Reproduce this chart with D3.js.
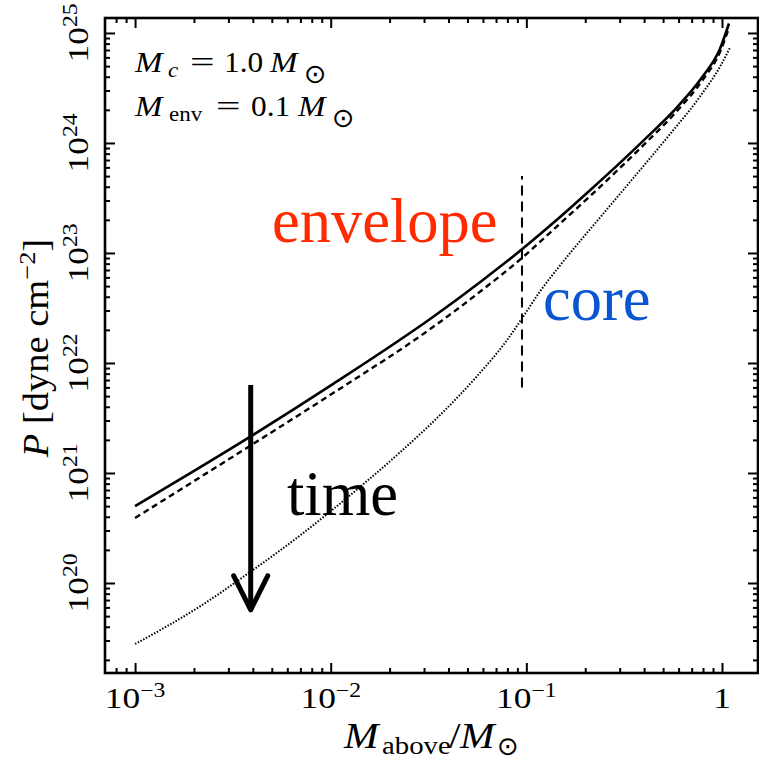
<!DOCTYPE html>
<html>
<head>
<meta charset="utf-8">
<script src="https://cdn.jsdelivr.net/npm/d3@7"></script>
<style>
  body { margin: 0; background: #fff; }
  svg { display: block; }
</style>
</head>
<body>
<svg id="chart" width="759" height="760"></svg>
<script>
// Pressure profiles P(M_above) at three epochs (solar masses, dyne cm^-2)
const massLate = [0.001, 0.0039, 0.0103, 0.0333, 0.060, 0.095, 0.137, 0.211, 0.301, 0.414, 0.589, 0.800, 0.977, 1.086];
const pressureLate = [5.0e20, 2.15e21, 6.46e21, 2.62e22, 5.69e22, 1.08e23, 1.87e23, 3.70e23, 6.59e23, 1.13e24, 2.11e24, 4.06e24, 7.18e24, 1.22e25];

const massMid = [0.001, 0.0039, 0.0103, 0.0333, 0.060, 0.095, 0.137, 0.211, 0.301, 0.414, 0.589, 0.800, 0.977, 1.086];
const pressureMid = [3.9e20, 1.78e21, 5.33e21, 2.12e22, 4.66e22, 9.01e22, 1.62e23, 3.27e23, 5.93e23, 1.03e24, 1.95e24, 3.78e24, 6.71e24, 1.12e25];

const massEarly = [0.001, 0.00215, 0.0039, 0.007, 0.01256, 0.0226, 0.0362, 0.0559, 0.0796, 0.095, 0.1174, 0.1486, 0.2464, 0.3676, 0.542, 0.7716, 0.977, 1.099];
const pressureEarly = [2.79e19, 6.14e19, 1.27e20, 2.72e20, 6.27e20, 1.54e21, 3.36e21, 7.57e21, 1.61e22, 2.54e22, 4.47e22, 7.69e22, 2.26e23, 5.25e23, 1.20e24, 2.64e24, 4.94e24, 7.35e24];

// envelope / core boundary marker and the "time" arrow
const boundaryMass = 0.095;
const boundaryPressure = [6e21, 5e23];
const arrowMass = 0.0039;
const arrowPressure = [6.3e21, 5.7e19];

// axes
const xDomain = [7.02e-4, 1.528];
const yDomain = [1.52e19, 1.368e25];
const xMajorTicks = [1e-3, 1e-2, 1e-1, 1];
const xTickBase = ["10", "10", "10", "1"];
const xTickExp = ["−3", "−2", "−1", ""];
const yMajorTicks = [1e20, 1e21, 1e22, 1e23, 1e24, 1e25];
const yTickBase = ["10", "10", "10", "10", "10", "10"];
const yTickExp = ["20", "21", "22", "23", "24", "25"];

const plot = { left: 105, right: 758, top: 18, bottom: 673 };

const svg = d3.select("#chart");
const x = d3.scaleLog().domain(xDomain).range([plot.left, plot.right]);
const y = d3.scaleLog().domain(yDomain).range([plot.bottom, plot.top]);

const SERIF = "'Liberation Serif', 'Times New Roman', serif";
const SYMBOL = "'DejaVu Sans', sans-serif";

function minorTicks(domain) {
  const out = [];
  for (let e = -5; e <= 30; e++) {
    for (let k = 2; k <= 9; k++) {
      const v = k * Math.pow(10, e);
      if (v >= domain[0] && v <= domain[1]) out.push(v);
    }
  }
  return out;
}
const xMinor = minorTicks(xDomain);
const yMinor = minorTicks(yDomain);

// tick marks on all four sides, pointing inward
function drawTicks(axisFn, scale, values, size, transform) {
  const g = svg.append("g").attr("transform", transform)
    .call(axisFn(scale).tickValues(values).tickSize(size).tickFormat(""));
  g.select(".domain").remove();
  g.selectAll(".tick line").attr("stroke", "#000").attr("stroke-width", 2);
}
drawTicks(d3.axisBottom, x, xMajorTicks, -10, `translate(0,${plot.bottom})`);
drawTicks(d3.axisBottom, x, xMinor, -5, `translate(0,${plot.bottom})`);
drawTicks(d3.axisTop, x, xMajorTicks, -10, `translate(0,${plot.top})`);
drawTicks(d3.axisTop, x, xMinor, -5, `translate(0,${plot.top})`);
drawTicks(d3.axisLeft, y, yMajorTicks, -10, `translate(${plot.left},0)`);
drawTicks(d3.axisLeft, y, yMinor, -5, `translate(${plot.left},0)`);
drawTicks(d3.axisRight, y, yMajorTicks, -10, `translate(${plot.right},0)`);
drawTicks(d3.axisRight, y, yMinor, -5, `translate(${plot.right},0)`);

// frame
svg.append("rect")
  .attr("x", plot.left).attr("y", plot.top)
  .attr("width", plot.right - plot.left).attr("height", plot.bottom - plot.top)
  .attr("fill", "none").attr("stroke", "#000").attr("stroke-width", 2.6);

// tick labels: "10" with a raised exponent, slightly widened serif
function powerLabel(px, py, rot, base, exp) {
  const g = svg.append("g").attr("transform", `translate(${px},${py}) rotate(${rot}) scale(1.18,1)`);
  const t = g.append("text").attr("text-anchor", "middle")
    .attr("font-family", SERIF).attr("font-size", 30).attr("fill", "#000");
  t.append("tspan").text(base);
  if (exp) t.append("tspan").attr("font-size", 20).attr("dy", -11).text(exp);
}
xMajorTicks.forEach((v, i) => powerLabel(x(v), 708, 0, xTickBase[i], xTickExp[i]));
yMajorTicks.forEach((v, i) => powerLabel(88, y(v), -90, yTickBase[i], yTickExp[i]));

// curves
const line = d3.line().x(d => x(d[0])).y(d => y(d[1])).curve(d3.curveMonotoneX);
const series = [
  { m: massLate, p: pressureLate, width: 2.6, dash: null },
  { m: massMid, p: pressureMid, width: 2.4, dash: "6,4" },
  { m: massEarly, p: pressureEarly, width: 2, dash: "1.5,1.6" }
];
series.forEach(s => {
  svg.append("path")
    .datum(d3.zip(s.m, s.p))
    .attr("d", line)
    .attr("fill", "none")
    .attr("stroke", "#000")
    .attr("stroke-width", s.width)
    .attr("stroke-dasharray", s.dash);
});

// envelope / core boundary
svg.append("line")
  .attr("x1", x(boundaryMass)).attr("x2", x(boundaryMass))
  .attr("y1", y(boundaryPressure[0])).attr("y2", y(boundaryPressure[1]))
  .attr("stroke", "#000").attr("stroke-width", 2).attr("stroke-dasharray", "10,6");

// time arrow
const ax = x(arrowMass), ay0 = y(arrowPressure[0]), ay1 = y(arrowPressure[1]);
svg.append("line")
  .attr("x1", ax).attr("x2", ax).attr("y1", ay0).attr("y2", ay1 - 2)
  .attr("stroke", "#000").attr("stroke-width", 5);
svg.append("path")
  .attr("d", `M${ax - 17},${ay1 - 34} L${ax},${ay1} L${ax + 17},${ay1 - 34}`)
  .attr("fill", "none").attr("stroke", "#000").attr("stroke-width", 5)
  .attr("stroke-linejoin", "round").attr("stroke-linecap", "round");

// region and arrow labels
function label(px, py, str, color) {
  svg.append("text").attr("x", px).attr("y", py)
    .attr("font-family", SERIF).attr("font-size", 62.5).attr("fill", color).text(str);
}
label(272, 242, "envelope", "#ff2a00");
label(543, 320, "core", "#0a56d2");
label(287, 515, "time", "#000");

// individually placed pieces of math text
function piece(px, py, str, size, opts = {}) {
  const g = svg.append("g").attr("transform", `translate(${px},${py}) scale(${opts.sx || 1.15},1)`);
  g.append("text")
    .attr("font-family", opts.symbol ? SYMBOL : SERIF)
    .attr("font-style", opts.italic ? "italic" : "normal")
    .attr("font-size", size).attr("fill", "#000").text(str);
}
// M_c = 1.0 M_sun
piece(135, 72, "M", 30, { italic: true, sx: 1.1 });
piece(168, 77, "c", 20, { italic: true });
piece(190, 72, "=", 29, { sx: 1.5 });
piece(224, 72, "1.0", 29, { sx: 1.08 });
piece(270, 72, "M", 30, { italic: true, sx: 1.1 });
piece(304, 83, "⊙", 27, { symbol: true, sx: 1.0 });
// M_env = 0.1 M_sun
piece(135, 116, "M", 30, { italic: true, sx: 1.1 });
piece(169, 121, "env", 20, { sx: 1.15 });
piece(216, 116, "=", 29, { sx: 1.5 });
piece(251, 116, "0.1", 29, { sx: 1.08 });
piece(298, 116, "M", 30, { italic: true, sx: 1.1 });
piece(332, 127, "⊙", 27, { symbol: true, sx: 1.0 });

// x-axis title: M_above / M_sun
piece(344, 748, "M", 36, { italic: true });
piece(382, 754, "above", 25);
piece(449, 748, "/", 36);
piece(460, 748, "M", 36, { italic: true });
piece(497, 755, "⊙", 26, { symbol: true, sx: 1.0 });

// y-axis title: P [dyne cm^-2]
const yt = svg.append("g").attr("transform", "translate(48,348) rotate(-90) scale(1.1,1)")
  .append("text").attr("text-anchor", "middle")
  .attr("font-family", SERIF).attr("font-size", 35).attr("fill", "#000");
yt.append("tspan").attr("font-style", "italic").text("P");
yt.append("tspan").text(" [dyne cm");
yt.append("tspan").attr("font-size", 24).attr("dy", -13).text("−2");
yt.append("tspan").attr("dy", 13).text("]");
</script>
</body>
</html>
